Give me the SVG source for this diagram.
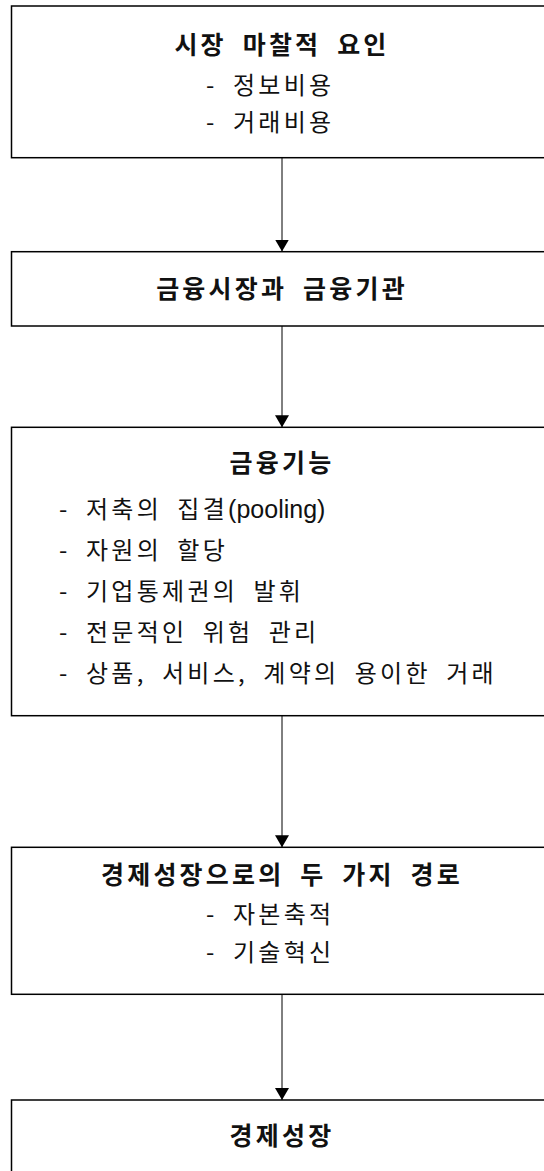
<svg xmlns="http://www.w3.org/2000/svg" width="544" height="1171" viewBox="0 0 544 1171">
<defs>
<style>
.box{fill:#fff;stroke:#000;stroke-width:1.5}
.t{font-family:"Noto Sans CJK KR","Noto Sans",sans-serif;font-size:25px;font-weight:bold;fill:#111;letter-spacing:3.2px;word-spacing:7px;text-anchor:middle}
.i{font-family:"Noto Sans CJK KR","Noto Sans",sans-serif;font-size:24px;fill:#111;letter-spacing:3.3px;word-spacing:6.6px}
.lat{font-family:"Liberation Sans",Arial,sans-serif;font-size:25px;letter-spacing:0px}
.c{fill:none;stroke:#000;stroke-width:1}
.ah{fill:#000}
</style>
<marker id="arr" viewBox="0 0 12 14" refX="12" refY="7" markerWidth="12" markerHeight="14" markerUnits="userSpaceOnUse" orient="auto">
<path d="M0,0 L12,7 L0,14 Z" class="ah"/>
</marker>
</defs>
<rect width="544" height="1171" fill="#fff"/>
<g id="connectors">
<line class="c" x1="282" y1="157.5" x2="282" y2="251.5" marker-end="url(#arr)"/>
<line class="c" x1="282" y1="326" x2="282" y2="427.3" marker-end="url(#arr)"/>
<line class="c" x1="282" y1="715.7" x2="282" y2="847.3" marker-end="url(#arr)"/>
<line class="c" x1="282" y1="994.3" x2="282" y2="1100" marker-end="url(#arr)"/>
</g>
<g id="n1">
<rect class="box" x="11.5" y="6" width="542" height="151.7"/>
<text class="t" x="282" y="54">시장 마찰적 요인</text>
<text class="i" x="206" y="94">- 정보비용</text>
<text class="i" x="206" y="131">- 거래비용</text>
</g>
<g id="n2">
<rect class="box" x="11.5" y="251.7" width="542" height="74.3"/>
<text class="t" x="282" y="298">금융시장과 금융기관</text>
</g>
<g id="n3">
<rect class="box" x="11.5" y="427.3" width="542" height="288.4"/>
<text class="t" x="282" y="472">금융기능</text>
<text class="i" x="59" y="518">- 저축의 집결<tspan class="lat">(pooling)</tspan></text>
<text class="i" x="59" y="559">- 자원의 할당</text>
<text class="i" x="59" y="600">- 기업통제권의 발휘</text>
<text class="i" x="59" y="641">- 전문적인 위험 관리</text>
<text class="i" x="59" y="682">- 상품, 서비스, 계약의 용이한 거래</text>
</g>
<g id="n4">
<rect class="box" x="11.5" y="847.3" width="542" height="147"/>
<text class="t" x="282" y="884">경제성장으로의 두 가지 경로</text>
<text class="i" x="206" y="923">- 자본축적</text>
<text class="i" x="206" y="961">- 기술혁신</text>
</g>
<g id="n5">
<rect class="box" x="11.5" y="1100" width="542" height="90"/>
<text class="t" x="282" y="1145">경제성장</text>
</g>
</svg>
